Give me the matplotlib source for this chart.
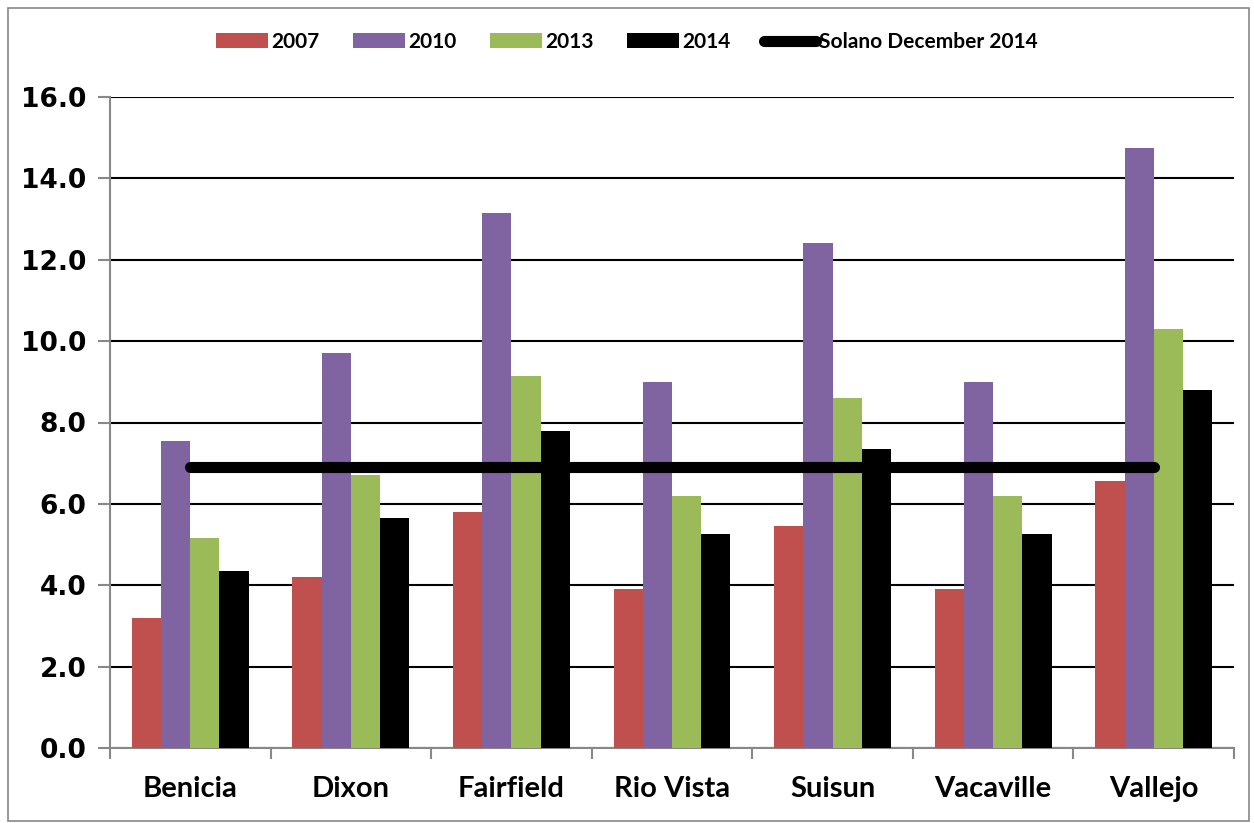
import numpy as np
import matplotlib
matplotlib.use("Agg")
import matplotlib.pyplot as plt
from matplotlib.patches import Rectangle

# --- data ---
cities = ["Benicia", "Dixon", "Fairfield", "Rio Vista", "Suisun", "Vacaville", "Vallejo"]
years = ["2007", "2010", "2013", "2014"]
rate_2007 = [3.2, 4.2, 5.8, 3.9, 5.45, 3.9, 6.55]
rate_2010 = [7.55, 9.7, 13.15, 9.0, 12.4, 9.0, 14.75]
rate_2013 = [5.15, 6.7, 9.15, 6.2, 8.6, 6.2, 10.3]
rate_2014 = [4.35, 5.65, 7.8, 5.25, 7.35, 5.25, 8.8]
solano_dec_2014 = 6.9
colors = ["#C0504D", "#8064A2", "#9BBB59", "#000000"]

W, H = 1254, 823
fig = plt.figure(figsize=(W / 100, H / 100), dpi=100)
fig.patch.set_facecolor("white")

# thin outer frame like the Excel chart area
fig.add_artist(Rectangle((8 / W, 2 / H), (1249 - 8) / W, (815 - 2) / H,
                         transform=fig.transFigure, fill=False,
                         edgecolor="#888888", lw=1.2))

ax = fig.add_axes([110 / W, (H - 748) / H, (1234 - 110) / W, (748 - 97) / H])

x = np.arange(len(cities))
series = [rate_2007, rate_2010, rate_2013, rate_2014]
bw = 1 / 5.5
for i, (vals, c, lab) in enumerate(zip(series, colors, years)):
    ax.bar(x + (i - 1.5) * bw, vals, width=bw, color=c, label=lab, zorder=3)

ax.plot([x[0], x[-1]], [solano_dec_2014] * 2, color="black", lw=8,
        solid_capstyle="round", label="Solano December 2014", zorder=4)

ax.set_xlim(-0.5, len(cities) - 0.5)
ax.set_ylim(0, 16)
ax.set_yticks(np.arange(0, 16.1, 2))
ax.set_yticklabels([f"{v:.1f}" for v in np.arange(0, 16.1, 2)],
                   fontsize=19, fontweight="bold", family="DejaVu Sans")
ax.set_xticks(x)
ax.set_xticklabels(cities, fontsize=21, fontweight="bold", family="Lato")
ax.set_xticks(np.arange(-0.5, len(cities)), minor=True)
ax.tick_params(axis="x", which="major", length=0, pad=20)
ax.tick_params(axis="x", which="minor", length=8, color="#888888", width=1.5)
ax.tick_params(axis="y", length=9, color="#888888", width=1.5, pad=8)

ax.grid(axis="y", color="black", lw=1.5, zorder=0)
ax.set_axisbelow(True)
for s in ["top", "right"]:
    ax.spines[s].set_visible(False)
for s in ["left", "bottom"]:
    ax.spines[s].set_color("#888888")
    ax.spines[s].set_linewidth(1.5)

handles, labels = ax.get_legend_handles_labels()
# bars first, the Solano line last
order = [1, 2, 3, 4, 0]
fig.legend([handles[k] for k in order], [labels[k] for k in order],
           loc="center", bbox_to_anchor=(0.5, (H - 42) / H), ncol=5,
           frameon=False, prop={"family": "Lato", "weight": "bold", "size": 15},
           handlelength=2.5, handleheight=0.7, handletextpad=0.15,
           columnspacing=1.6)

fig.savefig("out.png", dpi=100, facecolor="white")
